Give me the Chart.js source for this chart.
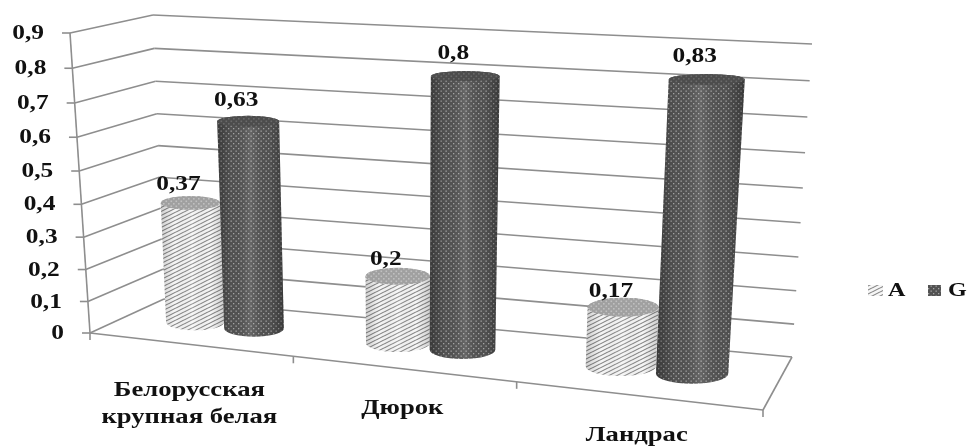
<!DOCTYPE html>
<html>
<head>
<meta charset="utf-8">
<title>A G</title>
<script src="https://cdn.jsdelivr.net/npm/chart.js@4/dist/chart.umd.min.js"></script>
<style>
html, body { margin: 0; padding: 0; background: #fff; }
canvas { display: block; }
</style>
</head>
<body>
<canvas id="chart" width="967" height="448"></canvas>
<script>
const categories = [['Белорусская', 'крупная белая'], 'Дюрок', 'Ландрас'];
const seriesNames = ['A', 'G'];
const valuesA = [0.37, 0.2, 0.17];
const valuesG = [0.63, 0.8, 0.83];
const yTickLabels = ['0', '0,1', '0,2', '0,3', '0,4', '0,5', '0,6', '0,7', '0,8', '0,9'];

const FONT = '"Liberation Serif", serif';
const GRID = '#8e8e8e';
const TEXT_STRETCH = 1.27;
// box corners as seen on the picture: front/back, left/right, bottom/top
const box = {
    flb: [90, 333], frb: [763, 410], blb: [164, 299], brb: [792, 357],
    flt: [70, 33], frt: [784, 80], blt: [153, 15], brt: [812, 44]
};
const BAR_DEPTH = 0.52;
const TOP_LIFT = 0.009; // cylinders stand a touch above the wall scale

function lerp(a, b, k) {
    return [a[0] + (b[0] - a[0]) * k, a[1] + (b[1] - a[1]) * k];
}

// t along the categories, d into the depth, s up the value axis (all 0..1)
function project(t, d, s) {
    const u = 0.866 * t / (1 - 0.134 * t);
    const h = 0.939 * s / (1 - 0.061 * s);
    const bottom = lerp(lerp(box.flb, box.frb, u), lerp(box.blb, box.brb, u), d);
    const top = lerp(lerp(box.flt, box.frt, u), lerp(box.blt, box.brt, u), d);
    return lerp(bottom, top, h);
}

function tile(w, h, paint) {
    const c = document.createElement('canvas');
    c.width = w;
    c.height = h;
    paint(c.getContext('2d'));
    return document.querySelector('#chart').getContext('2d').createPattern(c, 'repeat');
}

function hatch(bg, ink, width) {
    return tile(8, 4, g => {
        g.fillStyle = bg;
        g.fillRect(0, 0, 8, 4);
        g.strokeStyle = ink;
        g.lineWidth = width;
        for (const off of [-4, 0, 4]) {
            g.beginPath();
            g.moveTo(0, 4 + off);
            g.lineTo(8, off);
            g.stroke();
        }
    });
}

function dots(bg, ink, size) {
    return tile(5, 5, g => {
        g.fillStyle = bg;
        g.fillRect(0, 0, 5, 5);
        g.fillStyle = ink;
        g.fillRect(0.5, 0.5, size, size);
        g.fillRect(3, 3, size, size);
    });
}

const fillA = hatch('#f6f6f6', '#868686', 1.1);
const fillG = dots('#525252', '#a6a6a6', 1.3);
const capA = dots('#a0a0a0', '#c0c0c0', 1.6);
const capG = dots('#4c4c4c', '#6a6a6a', 1.6);
const caps = [capA, capG];

function line(ctx, a, b) {
    ctx.beginPath();
    ctx.moveTo(a[0], a[1]);
    ctx.lineTo(b[0], b[1]);
    ctx.stroke();
}

// the reference text is Times stretched sideways
function wideText(ctx, text, x, y) {
    ctx.save();
    ctx.translate(x, y);
    ctx.scale(TEXT_STRETCH, 1);
    ctx.fillText(text, 0, 0);
    ctx.restore();
}

function drawWalls(chart) {
    const ctx = chart.ctx, y = chart.scales.y, area = chart.chartArea;
    ctx.save();
    ctx.strokeStyle = GRID;
    ctx.lineWidth = 1.6;
    ctx.fillStyle = '#111';
    ctx.font = 'bold 20px ' + FONT;
    ctx.textAlign = 'right';
    ctx.textBaseline = 'middle';
    y.ticks.forEach((tick, i) => {
        const s = (area.bottom - y.getPixelForValue(tick.value)) / area.height;
        const front = project(0, 0, s), back = project(0, 1, s);
        line(ctx, [front[0] - 8, front[1]], front);
        line(ctx, front, back);
        line(ctx, back, project(1, 1, s));
        wideText(ctx, yTickLabels[i], front[0] - 26, front[1] + 1);
    });
    line(ctx, project(0, 0, 0), project(0, 0, 1));
    // floor edges and category ticks
    line(ctx, project(0, 0, 0), project(1, 0, 0));
    line(ctx, project(1, 0, 0), project(1, 1, 0));
    const x = chart.scales.x, n = categories.length;
    for (let i = 0; i <= n; i++) {
        const p = project(i / n, 0, 0);
        line(ctx, p, [p[0], p[1] + 7]);
    }
    ctx.font = 'bold 21px ' + FONT;
    ctx.textAlign = 'center';
    categories.forEach((cat, i) => {
        const t = (x.getPixelForValue(i) - area.left) / area.width;
        const p = project(t, 0, 0);
        const rows = [].concat(cat);
        const mid = p[1] + 40 + (rows.length - 1) * 20;
        rows.forEach((row, r) => {
            wideText(ctx, row, p[0], mid + (r - (rows.length - 1) / 2) * 27);
        });
    });
    ctx.restore();
}

function drawCylinder(chart, bar, body, cap, dark) {
    const ctx = chart.ctx, area = chart.chartArea;
    const t = (bar.x - area.left) / area.width;
    const half = bar.width / 2 / area.width;
    const s = (area.bottom - bar.y) / area.height;
    const b0 = project(t, BAR_DEPTH, 0), b1 = project(t, BAR_DEPTH, s + TOP_LIFT);
    const rx0 = (project(t + half, BAR_DEPTH, 0)[0] - project(t - half, BAR_DEPTH, 0)[0]) / 2;
    const rx1 = (project(t + half, BAR_DEPTH, s)[0] - project(t - half, BAR_DEPTH, s)[0]) / 2;
    const ry0 = rx0 * 0.28, ry1 = rx1 * (0.3 - 0.17 * s);

    ctx.save();
    ctx.beginPath();
    ctx.moveTo(b1[0] - rx1, b1[1]);
    ctx.lineTo(b0[0] - rx0, b0[1]);
    ctx.ellipse(b0[0], b0[1], rx0, ry0, 0, Math.PI, 0, true);
    ctx.lineTo(b1[0] + rx1, b1[1]);
    ctx.ellipse(b1[0], b1[1], rx1, ry1, 0, 0, Math.PI, true);
    ctx.closePath();
    ctx.fillStyle = body;
    ctx.fill();
    const left = Math.min(b0[0] - rx0, b1[0] - rx1), right = Math.max(b0[0] + rx0, b1[0] + rx1);
    const shade = ctx.createLinearGradient(left, 0, right, 0);
    shade.addColorStop(0, `rgba(0,0,0,${dark})`);
    shade.addColorStop(0.22, 'rgba(0,0,0,0)');
    shade.addColorStop(0.5, 'rgba(255,255,255,0.12)');
    shade.addColorStop(0.78, 'rgba(0,0,0,0)');
    shade.addColorStop(1, `rgba(0,0,0,${dark})`);
    ctx.fillStyle = shade;
    ctx.fill();
    ctx.beginPath();
    ctx.ellipse(b1[0], b1[1], rx1, ry1, 0, 0, Math.PI * 2);
    ctx.fillStyle = cap;
    ctx.fill();
    ctx.restore();
    return { top: b1, s: s };
}

function drawLegend(chart) {
    const ctx = chart.ctx;
    const swatchX = [868, 928];
    ctx.save();
    ctx.font = 'bold 19px ' + FONT;
    ctx.textBaseline = 'middle';
    ctx.textAlign = 'left';
    chart.data.datasets.forEach((ds, i) => {
        ctx.fillStyle = ds.backgroundColor;
        ctx.fillRect(swatchX[i], 285, i ? 13 : 15, 11);
        ctx.fillStyle = '#111';
        wideText(ctx, ds.label, swatchX[i] + 20, 291);
    });
    ctx.restore();
}

const cylinders = {
    id: 'cylinders',
    beforeDatasetsDraw(chart) {
        const ctx = chart.ctx;
        drawWalls(chart);
        const tops = [];
        chart.data.datasets.forEach((ds, i) => {
            chart.getDatasetMeta(i).data.forEach((bar, j) => {
                const c = drawCylinder(chart, bar, ds.backgroundColor, caps[i], i ? 0.3 : 0.16);
                tops.push([c, String(ds.data[j]).replace('.', ',')]);
            });
        });
        ctx.save();
        ctx.font = 'bold 20px ' + FONT;
        ctx.fillStyle = '#111';
        ctx.textAlign = 'center';
        ctx.textBaseline = 'middle';
        tops.forEach(([c, text]) => wideText(ctx, text, c.top[0] - 12, c.top[1] - 14 - 9 * c.s));
        ctx.restore();
        drawLegend(chart);
        return false;
    }
};

new Chart(document.querySelector('#chart'), {
    type: 'bar',
    data: {
        labels: categories,
        datasets: [
            { label: seriesNames[0], data: valuesA, backgroundColor: fillA },
            { label: seriesNames[1], data: valuesG, backgroundColor: fillG }
        ]
    },
    options: {
        responsive: false,
        animation: false,
        categoryPercentage: 0.6,
        barPercentage: 1,
        plugins: { legend: { display: false }, tooltip: { enabled: false } },
        scales: {
            x: { display: false },
            y: { display: false, min: 0, max: 0.9, ticks: { stepSize: 0.1 } }
        }
    },
    plugins: [cylinders]
});
</script>
</body>
</html>
